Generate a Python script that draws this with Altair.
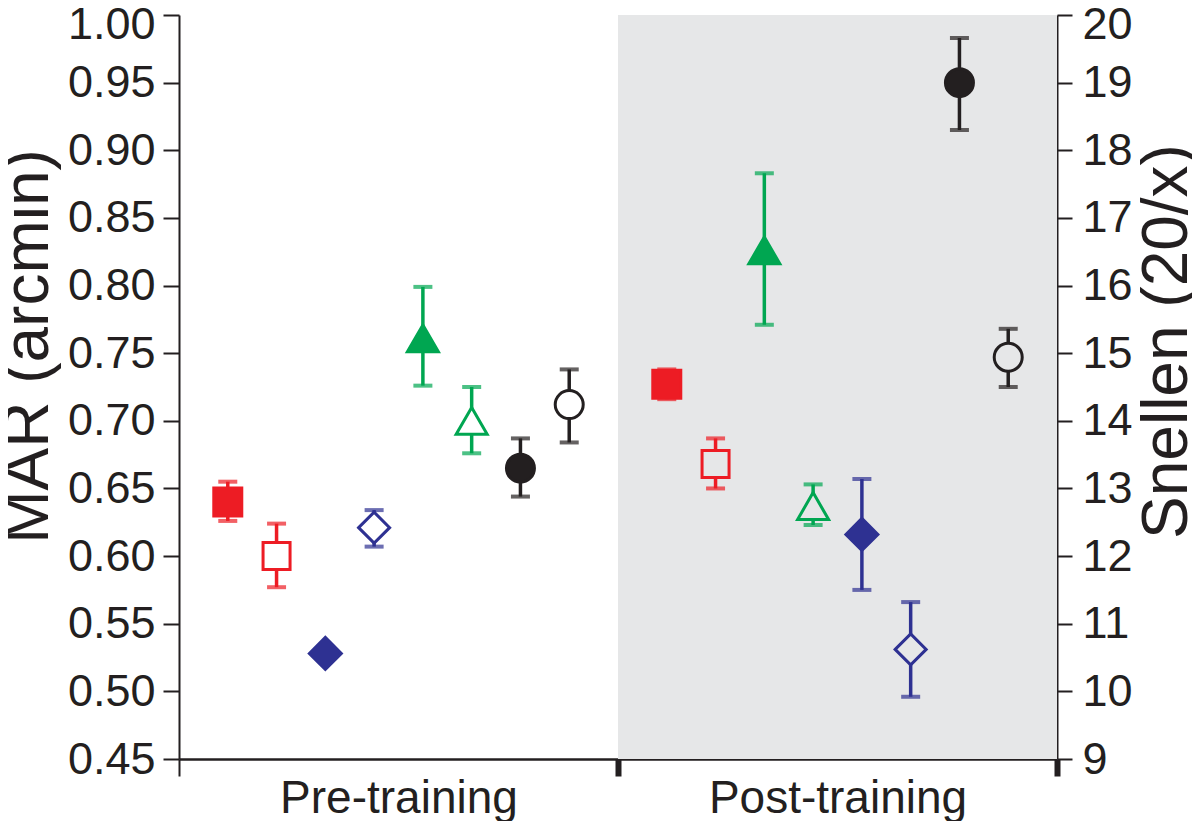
import altair as alt
import pandas as pd

# ---------------- data ----------------
periods = ["Pre-training", "Post-training"]
period_edges = [0, 9, 18]          # slot boundaries of the two periods

period_of = ["Pre-training"] * 8 + ["Post-training"] * 8
slot = [1, 2, 3, 4, 5, 6, 7, 8, 10, 11, 12, 13, 14, 15, 16, 17]
hue = ["red", "red", "blue", "blue", "green", "green", "black", "black",
       "red", "red", "green", "green", "blue", "blue", "black", "black"]
filled = [True, False] * 8
mar = [0.640, 0.600, 0.528, 0.621, 0.761, 0.700, 0.665, 0.712,
       0.727, 0.668, 0.826, 0.637, 0.616, 0.531, 0.950, 0.747]
mar_lo = [0.626, 0.577, 0.528, 0.607, 0.726, 0.676, 0.644, 0.684,
          0.716, 0.650, 0.771, 0.623, 0.575, 0.496, 0.915, 0.725]
mar_hi = [0.655, 0.624, 0.528, 0.634, 0.799, 0.725, 0.687, 0.738,
          0.738, 0.687, 0.883, 0.653, 0.657, 0.566, 0.983, 0.768]

mar_ticks = [0.45, 0.50, 0.55, 0.60, 0.65, 0.70, 0.75, 0.80, 0.85, 0.90, 0.95, 1.00]
snellen_ticks = [9, 10, 11, 12, 13, 14, 15, 16, 17, 18, 19, 20]

# ---------------- styles ----------------
HUE_COLOR = {"red": "#ED1C24", "blue": "#2E3192", "green": "#00A651", "black": "#231F20"}
HUE_SHAPE = {"red": "square", "blue": "diamond", "green": "triangle-up", "black": "circle"}
SIZE = {("square", True): 784, ("square", False): 729,
        ("diamond", True): 1024, ("diamond", False): 961,
        ("triangle-up", True): 961, ("triangle-up", False): 961,
        ("circle", True): 784, ("circle", False): 784}
BG = {"Pre-training": "#FFFFFF", "Post-training": "#E6E7E8"}
INK = "#231F20"
FONT = "Liberation Sans"

df = pd.DataFrame({"period": period_of, "slot": slot, "hue": hue, "filled": filled,
                   "mar": mar, "lo": mar_lo, "hi": mar_hi})
df["color"] = df["hue"].map(HUE_COLOR)
df["shape"] = df["hue"].map(HUE_SHAPE)
df["size"] = [SIZE[(s, f)] for s, f in zip(df["shape"], df["filled"])]
df["fill"] = [c if f else BG[p] for c, f, p in zip(df["color"], df["filled"], df["period"])]
df["snellen"] = df["mar"] * 20

shade_df = pd.DataFrame({"x0": [period_edges[1]], "x1": [period_edges[2]],
                         "y0": [mar_ticks[0]], "y1": [mar_ticks[-1]]})

mids = [(period_edges[i] + period_edges[i + 1]) / 2 for i in range(len(periods))]
x_values = sorted(period_edges + mids)
label_expr = " : ".join(f"datum.value == {m} ? '{p}'" for m, p in zip(mids, periods)) + " : ''"
mid_test = " || ".join(f"datum.value == {m}" for m in mids)

x_scale = alt.Scale(domain=[period_edges[0], period_edges[-1]], nice=False, zero=False)
y_scale = alt.Scale(domain=[mar_ticks[0], mar_ticks[-1]], nice=False, zero=False)
s_scale = alt.Scale(domain=[snellen_ticks[0], snellen_ticks[-1]], nice=False, zero=False)

x_axis = alt.Axis(values=x_values, labelExpr=label_expr, title=None, grid=False,
                  labelFontSize=46, labelFont=FONT, labelColor=INK, labelPadding=0,
                  labelFlush=False, labelOverlap=False, labelLimit=0,
                  tickColor={"condition": {"test": mid_test, "value": "transparent"}, "value": INK},
                  tickWidth={"condition": {"test": f"datum.value == {period_edges[0]}", "value": 2}, "value": 6},
                  tickSize=17, domainColor=INK, domainWidth=2.5)

y_axis = alt.Axis(values=mar_ticks, format=".2f", title="MAR (arcmin)", grid=False,
                  labelFontSize=45, labelFont=FONT, labelColor=INK, labelPadding=8,
                  labelOffset={"condition": {"test": f"datum.value == {mar_ticks[-1]}", "value": 9}, "value": 0},
                  tickSize=16, tickWidth=2, tickColor=INK, domainColor=INK, domainWidth=2,
                  titleFontSize=64, titleFont=FONT, titleFontWeight="normal", titleColor=INK,
                  titleAngle=270, titleX=-151, titleY=331, titleAlign="center",
                  titleBaseline="middle", labelFlush=False, labelOverlap=False)

s_axis = alt.Axis(orient="right", values=snellen_ticks, title="Snellen (20/x)", grid=False,
                  labelFontSize=45, labelFont=FONT, labelColor=INK, labelPadding=10,
                  labelOffset={"condition": {"test": f"datum.value == {snellen_ticks[-1]}", "value": 9}, "value": 0},
                  tickSize=15, tickWidth=2, tickColor=INK, domainColor=INK, domainWidth=2,
                  titleFontSize=64, titleFont=FONT, titleFontWeight="normal", titleColor=INK,
                  titleAngle=270, titleX=110, titleY=326, titleAlign="center",
                  titleBaseline="middle", labelFlush=False, labelOverlap=False)

X = alt.X("slot:Q", scale=x_scale, axis=x_axis)

shade = alt.Chart(shade_df).mark_rect(color=BG["Post-training"]).encode(
    x=alt.X("x0:Q", scale=x_scale, axis=x_axis),
    x2="x1:Q",
    y=alt.Y("y0:Q", scale=y_scale, axis=y_axis),
    y2="y1:Q",
)

bars = alt.Chart(df).mark_rule(strokeWidth=3.5).encode(
    x=X,
    y=alt.Y("lo:Q", scale=y_scale, axis=y_axis),
    y2="hi:Q",
    color=alt.Color("color:N", scale=None),
)

caps_lo = alt.Chart(df).mark_tick(orient="horizontal", size=19, thickness=4).encode(
    x=X,
    y=alt.Y("lo:Q", scale=y_scale, axis=y_axis),
    color=alt.Color("color:N", scale=None),
)
caps_hi = alt.Chart(df).mark_tick(orient="horizontal", size=19, thickness=4).encode(
    x=X,
    y=alt.Y("hi:Q", scale=y_scale, axis=y_axis),
    color=alt.Color("color:N", scale=None),
)

points = alt.Chart(df).mark_point(strokeWidth=3, opacity=1, strokeJoin="miter").encode(
    x=X,
    y=alt.Y("mar:Q", scale=y_scale, axis=y_axis),
    shape=alt.Shape("shape:N", scale=None),
    fill=alt.Fill("fill:N", scale=None),
    stroke=alt.Stroke("color:N", scale=None),
    size=alt.Size("size:Q", scale=None),
)

snellen = alt.Chart(df).mark_point(opacity=0).encode(
    x=X,
    y=alt.Y("snellen:Q", scale=s_scale, axis=s_axis),
)

main = alt.layer(shade, bars, caps_lo, caps_hi, points)
chart = alt.layer(main, snellen).resolve_scale(y="independent").properties(
    width=878, height=744,
    autosize=alt.AutoSizeParams(type="none"),
    padding={"left": 171, "top": 7, "right": 135, "bottom": 62},
).configure_view(stroke=None)

chart.save("out.html", embed_options={"renderer": "svg", "actions": False})
